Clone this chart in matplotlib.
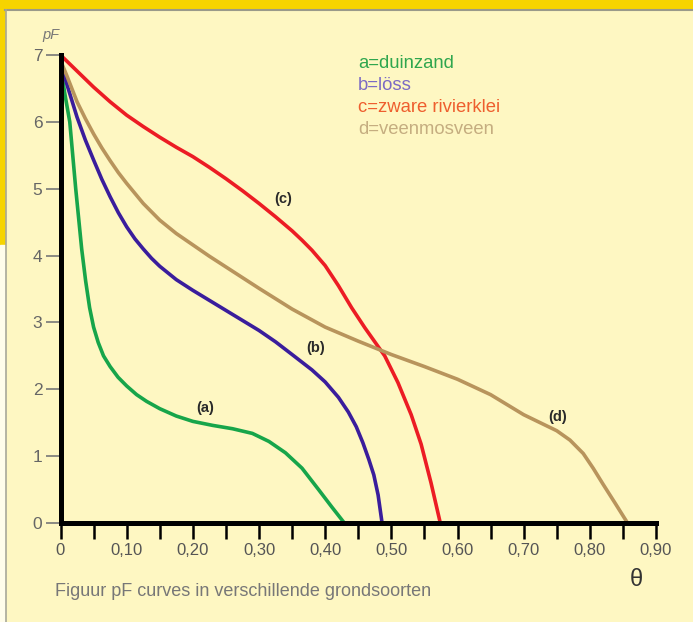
import matplotlib
matplotlib.use("Agg")
import matplotlib.pyplot as plt
from matplotlib.patches import Rectangle
from matplotlib.lines import Line2D
from matplotlib.ticker import MultipleLocator

plt.rcParams['font.family'] = ['Liberation Sans', 'DejaVu Sans']

# ---- data (theta, pF) ----
a_theta = [0.0, 0.006, 0.014, 0.023, 0.032, 0.038, 0.044, 0.050, 0.057, 0.065, 0.075, 0.087, 0.100, 0.115,
           0.130, 0.150, 0.175, 0.200, 0.230, 0.260, 0.290, 0.315, 0.340, 0.365, 0.390, 0.410, 0.429]
a_pf = [6.85, 6.45, 6.00, 5.00, 4.10, 3.62, 3.22, 2.93, 2.70, 2.50, 2.34, 2.18, 2.05, 1.92,
        1.82, 1.71, 1.60, 1.52, 1.46, 1.41, 1.34, 1.22, 1.05, 0.82, 0.50, 0.24, 0.0]

b_theta = [0.0, 0.010, 0.025, 0.0375, 0.050, 0.0625, 0.075, 0.0875, 0.100, 0.1125, 0.125, 0.1375, 0.150,
           0.175, 0.200, 0.225, 0.250, 0.275, 0.300, 0.325, 0.350, 0.380, 0.400,
           0.420, 0.435, 0.447, 0.457, 0.466, 0.4735, 0.480, 0.486]
b_pf = [6.90, 6.55, 6.07, 5.73, 5.43, 5.14, 4.88, 4.64, 4.43, 4.25, 4.10, 3.96, 3.84,
        3.64, 3.48, 3.33, 3.18, 3.03, 2.88, 2.71, 2.52, 2.29, 2.11,
        1.88, 1.66, 1.44, 1.20, 0.95, 0.72, 0.42, 0.0]

c_theta = [0.0, 0.025, 0.050, 0.075, 0.100, 0.125, 0.150, 0.175, 0.200, 0.225, 0.250, 0.275, 0.300, 0.325,
           0.350, 0.365, 0.380, 0.400, 0.420, 0.440, 0.460, 0.475, 0.490,
           0.510, 0.530, 0.545, 0.560, 0.574]
c_pf = [7.00, 6.76, 6.52, 6.30, 6.10, 5.93, 5.77, 5.62, 5.48, 5.32, 5.15, 4.97, 4.78, 4.58,
        4.37, 4.23, 4.08, 3.85, 3.55, 3.22, 2.92, 2.71, 2.50,
        2.10, 1.62, 1.18, 0.60, 0.0]

d_theta = [0.0, 0.010, 0.025, 0.0375, 0.050, 0.0625, 0.075, 0.0875, 0.100, 0.125, 0.150, 0.175, 0.200, 0.225,
           0.250, 0.275, 0.300, 0.350, 0.400, 0.450, 0.500,
           0.550, 0.600, 0.650, 0.700, 0.725, 0.750, 0.770, 0.790, 0.805, 0.820, 0.838, 0.857]
d_pf = [6.92, 6.68, 6.30, 6.05, 5.82, 5.61, 5.42, 5.24, 5.08, 4.78, 4.53, 4.33, 4.16, 3.99,
        3.83, 3.67, 3.51, 3.20, 2.93, 2.72, 2.52,
        2.34, 2.15, 1.92, 1.62, 1.50, 1.38, 1.24, 1.04, 0.82, 0.58, 0.30, 0.0]

curve_labels = ['(a)', '(b)', '(c)', '(d)']
label_pos_theta = [0.218, 0.386, 0.337, 0.752]
label_pos_pf = [1.72, 2.62, 4.85, 1.58]

legend_texts = ['a=duinzand', 'b=löss', 'c=zware rivierklei', 'd=veenmosveen']
x_ticks = [0.0, 0.1, 0.2, 0.3, 0.4, 0.5, 0.6, 0.7, 0.8, 0.9]
x_ticklabels = ['0', '0,10', '0,20', '0,30', '0,40', '0,50', '0,60', '0,70', '0,80', '0,90']
y_ticks = [0, 1, 2, 3, 4, 5, 6, 7]

# ---- styling ----
bg = '#FEF7C2'
gold = '#F6D400'
line_colors = ['#17A54A', '#3A1D9C', '#EC1C24', '#B8945C']
text_colors = ['#2FA64E', '#7B6AC4', '#EE5E2E', '#C5AD80']

W, H = 693, 622
fig = plt.figure(figsize=(W / 100, H / 100), dpi=100, facecolor=bg)

# decorative frame
fig.patches.append(Rectangle((0, 1 - 8 / H), 1, 8 / H, transform=fig.transFigure, color=gold, zorder=0))
fig.patches.append(Rectangle((0, 1 - 245 / H), 5 / W, 245 / H, transform=fig.transFigure, color=gold, zorder=0))
fig.patches.append(Rectangle((0, 0), 5 / W, 1 - 245 / H, transform=fig.transFigure, color='#FFFDEA', zorder=0))
fig.lines.append(Line2D([5 / W, 1], [1 - 9.5 / H, 1 - 9.5 / H], transform=fig.transFigure, color='#9A9A8A', lw=1.5))
fig.lines.append(Line2D([6 / W, 6 / W], [0, 1 - 9.5 / H], transform=fig.transFigure, color='#A8A898', lw=1.2))

x0, x1 = 60.5, 656
y0, y1 = 523, 55
ax = fig.add_axes([x0 / W, 1 - y0 / H, (x1 - x0) / W, (y0 - y1) / H])
ax.set_facecolor('none')
ax.set_xlim(0, 0.9)
ax.set_ylim(0, 7)

for th, pf, col in zip([a_theta, b_theta, c_theta, d_theta], [a_pf, b_pf, c_pf, d_pf], line_colors):
    ax.plot(th, pf, color=col, lw=2.6, solid_capstyle='round', solid_joinstyle='round', zorder=3)

for lab, tx, ty in zip(curve_labels, label_pos_theta, label_pos_pf):
    ax.text(tx, ty, lab, fontsize=10.5, color='#2a2a2a', ha='center', va='center', fontweight='bold', zorder=4)

for spine in ['top', 'right']:
    ax.spines[spine].set_visible(False)
for spine in ['left', 'bottom']:
    ax.spines[spine].set_linewidth(3.6)
    ax.spines[spine].set_color('black')
    ax.spines[spine].set_zorder(5)

ax.set_xticks(x_ticks)
ax.set_xticklabels(x_ticklabels)
ax.xaxis.set_minor_locator(MultipleLocator(0.05))
ax.tick_params(axis='x', which='both', direction='out', length=11.5, width=1.8, color='black',
               labelsize=12, labelcolor='#555555', pad=3)

ax.set_yticks(y_ticks)
ax.set_yticklabels([str(v) for v in y_ticks])
ax.yaxis.set_minor_locator(MultipleLocator(0.1))
ax.tick_params(axis='y', which='major', direction='out', length=11, width=1.2, color='#777777',
               labelsize=12.5, labelcolor='#666666', pad=2)
ax.tick_params(axis='y', which='minor', direction='inout', length=2.5, width=0.8, color='#222222')

# legend-like colored texts
for i, (t, c) in enumerate(zip(legend_texts, text_colors)):
    fig.text(358 / W, 1 - (64 + 21.7 * i) / H, t, color=c, fontsize=13.3, ha='left', va='center')

fig.text(42 / W, 1 - 35 / H, 'pF', color='#777777', fontsize=10.5, style='italic', ha='left', va='center')
fig.text(636 / W, 1 - 580 / H, 'θ', color='#333333', fontsize=17, ha='center', va='center')
fig.text(55 / W, 1 - 592 / H, 'Figuur pF curves in verschillende grondsoorten', color='#777777',
         fontsize=13, ha='left', va='center')

fig.savefig('out.png', dpi=100, facecolor=bg)
